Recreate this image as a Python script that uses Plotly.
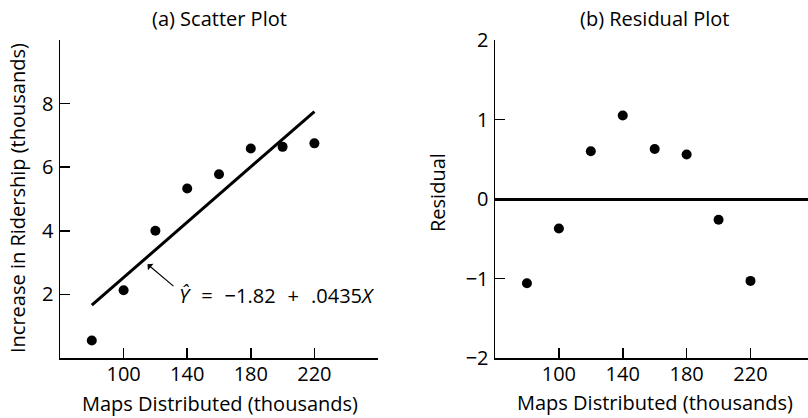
import plotly.graph_objects as go

# Data
maps_distributed = [80, 100, 120, 140, 160, 180, 200, 220]
ridership_increase = [0.55, 2.13, 4.0, 5.33, 5.78, 6.59, 6.64, 6.75]
residuals = [-1.06, -0.37, 0.60, 1.05, 0.63, 0.56, -0.26, -1.03]
fit_intercept = -1.82
fit_slope = 0.0435
fit_x = [80, 220]
fit_y = [fit_intercept + fit_slope * x for x in fit_x]

x_ticks = [100, 140, 180, 220]
y_ticks_left = [2, 4, 6, 8]
y_ticks_right = [-2, -1, 0, 1, 2]
y_ticktext_right = ["\u22122", "\u22121", "0", "1", "2"]

FONT = "Open Sans"
FS = 20
W, H = 808, 418
ML, MR, MT, MB = 60, 0, 40, 60
PW, PH = W - ML - MR, H - MT - MB


def px_x(p):
    return (p - ML) / PW


def px_y(p):
    return (H - MB - p) / PH


fig = go.Figure()

fig.add_trace(go.Scatter(x=maps_distributed, y=ridership_increase, mode="markers",
                         marker=dict(color="black", size=10), xaxis="x", yaxis="y",
                         showlegend=False, hoverinfo="skip"))
fig.add_trace(go.Scatter(x=fit_x, y=fit_y, mode="lines",
                         line=dict(color="black", width=3), xaxis="x", yaxis="y",
                         showlegend=False, hoverinfo="skip"))
fig.add_trace(go.Scatter(x=maps_distributed, y=residuals, mode="markers",
                         marker=dict(color="black", size=10), xaxis="x2", yaxis="y2",
                         showlegend=False, hoverinfo="skip"))

axis_common = dict(showline=True, linecolor="black", linewidth=1.5, ticks="inside",
                   ticklen=10, tickwidth=1.5, tickcolor="black", showgrid=False,
                   zeroline=False, automargin=False,
                   tickfont=dict(family=FONT, size=FS, color="black"))

fig.update_layout(
    template="none",
    width=W, height=H,
    margin=dict(l=ML, r=MR, t=MT, b=MB),
    paper_bgcolor="white", plot_bgcolor="white",
    font=dict(family=FONT, color="black"),
    xaxis=dict(domain=[0, px_x(378)], range=[60, 260], tickvals=x_ticks,
               ticklabelstandoff=-3, anchor="y", **axis_common),
    yaxis=dict(domain=[0, 1], range=[0, 10], tickvals=y_ticks_left, anchor="x",
               ticklabelstandoff=1, **axis_common),
    xaxis2=dict(domain=[px_x(495), 1], range=[60, 256], tickvals=x_ticks,
                ticklabelstandoff=-3, anchor="y2", **axis_common),
    yaxis2=dict(domain=[0, 1], range=[-2, 2], tickvals=y_ticks_right,
                ticktext=y_ticktext_right, anchor="x2", ticklabelstandoff=1,
                **axis_common),
)
fig.update_layout(yaxis2_zeroline=True, yaxis2_zerolinecolor="black", yaxis2_zerolinewidth=3)

tf = dict(family=FONT, size=FS, color="black")
annotations = [
    dict(text="(a) Scatter Plot", xref="paper", yref="paper", x=px_x(219), y=px_y(18),
         xanchor="center", yanchor="middle", showarrow=False, font=tf),
    dict(text="(b) Residual Plot", xref="paper", yref="paper", x=px_x(654), y=px_y(18),
         xanchor="center", yanchor="middle", showarrow=False, font=tf),
    dict(text="Maps Distributed (thousands)", xref="paper", yref="paper", x=px_x(220),
         y=px_y(403), xanchor="center", yanchor="middle", showarrow=False, font=tf),
    dict(text="Maps Distributed (thousands)", xref="paper", yref="paper", x=px_x(655),
         y=px_y(402), xanchor="center", yanchor="middle", showarrow=False, font=tf),
    dict(text="Increase in Ridership (thousands)", xref="paper", yref="paper", x=px_x(17),
         y=px_y(198), xanchor="center", yanchor="middle", textangle=-90, showarrow=False,
         font=tf),
    dict(text="Residual", xref="paper", yref="paper", x=px_x(437), y=px_y(193),
         xanchor="center", yanchor="middle", textangle=-90, showarrow=False, font=tf),
    dict(text="", x=115, y=2.95, xref="x", yref="y", ax=132.3, ay=2.22, axref="x", ayref="y",
         showarrow=True, arrowhead=1, arrowsize=1.2, arrowwidth=1.2, arrowcolor="black"),
    dict(text="<i>\u0176</i>\u2002\u200a=\u2002\u200a\u22121.82\u2002\u200a+\u2002\u200a.0435<i>X</i>",
         x=133.6, y=1.97, xref="x", yref="y", xanchor="left", yanchor="middle",
         showarrow=False, font=tf),
]
fig.update_layout(annotations=annotations)

fig.write_html("out.html", config={"displayModeBar": False, "staticPlot": True},
               post_script="document.body.style.margin='0';document.body.style.overflow='hidden';")
